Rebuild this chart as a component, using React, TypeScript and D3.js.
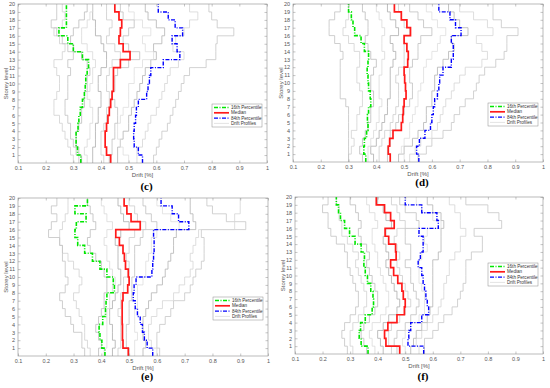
import { useEffect, useRef } from "react";
import * as d3 from "d3";

// storey levels and x ticks
const levels = d3.range(1, 21);
const xTicks = [0.1, 0.2, 0.3, 0.4, 0.5, 0.6, 0.7, 0.8, 0.9, 1];
const legendLabels = ["16th Percentile", "Median", "84th Percentile", "Drift Profiles"];

// values listed bottom (storey 1) to top (storey 20)
const c16 = [0.327, 0.315, 0.31, 0.31, 0.317, 0.32, 0.325, 0.333, 0.34, 0.343, 0.345, 0.35, 0.355, 0.333, 0.3, 0.28, 0.248, 0.275, 0.275, 0.275];
const cMed = [0.435, 0.42, 0.415, 0.415, 0.42, 0.425, 0.43, 0.435, 0.44, 0.445, 0.445, 0.445, 0.47, 0.505, 0.48, 0.465, 0.47, 0.475, 0.465, 0.45];
const c84 = [0.55, 0.535, 0.52, 0.518, 0.52, 0.525, 0.528, 0.535, 0.565, 0.57, 0.575, 0.58, 0.625, 0.685, 0.675, 0.657, 0.695, 0.668, 0.643, 0.607];
const cGray = [
  [0.59, 0.6, 0.61, 0.62, 0.64, 0.65, 0.66, 0.67, 0.68, 0.69, 0.7, 0.72, 0.78, 0.815, 0.815, 0.82, 0.88, 0.82, 0.8, 0.79],
  [0.53, 0.53, 0.55, 0.56, 0.57, 0.58, 0.6, 0.61, 0.62, 0.63, 0.64, 0.65, 0.68, 0.7, 0.66, 0.67, 0.7, 0.72, 0.75, 0.72],
  [0.46, 0.46, 0.47, 0.48, 0.5, 0.5, 0.51, 0.52, 0.53, 0.54, 0.55, 0.56, 0.58, 0.6, 0.59, 0.62, 0.63, 0.6, 0.57, 0.56],
  [0.5, 0.48, 0.47, 0.46, 0.46, 0.47, 0.48, 0.5, 0.5, 0.5, 0.52, 0.52, 0.55, 0.59, 0.56, 0.55, 0.58, 0.55, 0.52, 0.5],
  [0.43, 0.44, 0.44, 0.45, 0.45, 0.46, 0.46, 0.45, 0.44, 0.45, 0.45, 0.46, 0.5, 0.54, 0.5, 0.48, 0.5, 0.52, 0.48, 0.47],
  [0.41, 0.4, 0.4, 0.4, 0.41, 0.42, 0.42, 0.43, 0.43, 0.42, 0.42, 0.43, 0.44, 0.47, 0.45, 0.42, 0.43, 0.44, 0.42, 0.42],
  [0.37, 0.37, 0.38, 0.38, 0.38, 0.39, 0.39, 0.4, 0.4, 0.39, 0.39, 0.4, 0.42, 0.42, 0.41, 0.4, 0.38, 0.38, 0.37, 0.37],
  [0.35, 0.34, 0.35, 0.36, 0.36, 0.37, 0.37, 0.36, 0.35, 0.36, 0.37, 0.37, 0.38, 0.37, 0.35, 0.33, 0.33, 0.35, 0.36, 0.37],
  [0.33, 0.32, 0.31, 0.31, 0.32, 0.33, 0.33, 0.34, 0.34, 0.35, 0.35, 0.36, 0.35, 0.33, 0.3, 0.29, 0.3, 0.32, 0.34, 0.35],
  [0.3, 0.29, 0.28, 0.27, 0.26, 0.25, 0.23, 0.23, 0.24, 0.25, 0.25, 0.24, 0.23, 0.26, 0.27, 0.25, 0.23, 0.26, 0.27, 0.26],
  [0.32, 0.31, 0.3, 0.29, 0.29, 0.28, 0.27, 0.27, 0.28, 0.28, 0.28, 0.29, 0.28, 0.3, 0.28, 0.26, 0.24, 0.22, 0.24, 0.24],
];

const d16 = [0.362, 0.355, 0.357, 0.365, 0.37, 0.368, 0.372, 0.38, 0.378, 0.372, 0.37, 0.367, 0.37, 0.372, 0.357, 0.345, 0.322, 0.316, 0.31, 0.3];
const dMed = [0.45, 0.443, 0.448, 0.46, 0.49, 0.495, 0.497, 0.5, 0.507, 0.505, 0.502, 0.5, 0.513, 0.515, 0.51, 0.5, 0.523, 0.51, 0.49, 0.465];
const d84 = [0.553, 0.545, 0.555, 0.575, 0.595, 0.6, 0.605, 0.61, 0.62, 0.625, 0.628, 0.64, 0.67, 0.677, 0.677, 0.67, 0.705, 0.685, 0.665, 0.625];
const dGray = [
  [0.55, 0.58, 0.6, 0.64, 0.67, 0.68, 0.7, 0.72, 0.75, 0.76, 0.77, 0.79, 0.83, 0.86, 0.87, 0.87, 0.91, 0.85, 0.82, 0.82],
  [0.52, 0.54, 0.56, 0.6, 0.62, 0.63, 0.64, 0.65, 0.67, 0.68, 0.7, 0.72, 0.78, 0.8, 0.78, 0.76, 0.82, 0.8, 0.75, 0.7],
  [0.48, 0.5, 0.53, 0.55, 0.57, 0.58, 0.58, 0.6, 0.6, 0.61, 0.61, 0.62, 0.64, 0.66, 0.68, 0.67, 0.73, 0.7, 0.68, 0.66],
  [0.5, 0.49, 0.5, 0.52, 0.52, 0.53, 0.54, 0.55, 0.55, 0.56, 0.57, 0.57, 0.58, 0.6, 0.62, 0.63, 0.65, 0.62, 0.6, 0.58],
  [0.44, 0.44, 0.45, 0.45, 0.47, 0.48, 0.5, 0.52, 0.53, 0.53, 0.52, 0.52, 0.53, 0.55, 0.55, 0.56, 0.6, 0.57, 0.55, 0.52],
  [0.41, 0.41, 0.42, 0.43, 0.45, 0.46, 0.47, 0.48, 0.48, 0.48, 0.47, 0.48, 0.5, 0.5, 0.5, 0.5, 0.52, 0.5, 0.49, 0.48],
  [0.39, 0.38, 0.4, 0.41, 0.42, 0.43, 0.44, 0.44, 0.45, 0.45, 0.45, 0.45, 0.46, 0.47, 0.46, 0.45, 0.48, 0.47, 0.45, 0.44],
  [0.37, 0.37, 0.38, 0.39, 0.4, 0.41, 0.41, 0.42, 0.41, 0.41, 0.41, 0.42, 0.42, 0.43, 0.42, 0.42, 0.43, 0.42, 0.41, 0.4],
  [0.35, 0.34, 0.35, 0.36, 0.37, 0.38, 0.38, 0.39, 0.39, 0.38, 0.38, 0.39, 0.4, 0.38, 0.37, 0.36, 0.37, 0.37, 0.36, 0.35],
  [0.3, 0.31, 0.32, 0.31, 0.33, 0.33, 0.34, 0.35, 0.35, 0.34, 0.33, 0.33, 0.34, 0.34, 0.32, 0.3, 0.28, 0.29, 0.3, 0.3],
  [0.3, 0.3, 0.3, 0.3, 0.3, 0.3, 0.3, 0.29, 0.27, 0.27, 0.27, 0.27, 0.27, 0.28, 0.27, 0.25, 0.23, 0.23, 0.25, 0.27],
];

const e16 = [0.413, 0.402, 0.395, 0.392, 0.405, 0.415, 0.417, 0.42, 0.447, 0.443, 0.42, 0.395, 0.368, 0.34, 0.315, 0.305, 0.31, 0.345, 0.305, 0.35];
const eMed = [0.497, 0.478, 0.476, 0.476, 0.475, 0.475, 0.475, 0.478, 0.495, 0.5, 0.497, 0.487, 0.483, 0.478, 0.465, 0.452, 0.54, 0.507, 0.492, 0.482];
const e84 = [0.585, 0.565, 0.555, 0.548, 0.54, 0.53, 0.522, 0.515, 0.518, 0.525, 0.582, 0.585, 0.588, 0.59, 0.59, 0.588, 0.715, 0.678, 0.655, 0.615];
const eGray = [
  [0.61, 0.6, 0.6, 0.61, 0.63, 0.65, 0.66, 0.7, 0.72, 0.73, 0.74, 0.76, 0.77, 0.77, 0.77, 0.76, 0.92, 0.85, 0.8, 0.78],
  [0.6, 0.58, 0.57, 0.57, 0.58, 0.6, 0.62, 0.66, 0.68, 0.7, 0.72, 0.73, 0.72, 0.73, 0.74, 0.75, 0.88, 0.88, 0.9, 0.9],
  [0.55, 0.56, 0.55, 0.55, 0.55, 0.56, 0.57, 0.58, 0.6, 0.62, 0.63, 0.64, 0.65, 0.66, 0.66, 0.67, 0.74, 0.73, 0.72, 0.72],
  [0.52, 0.52, 0.53, 0.52, 0.52, 0.52, 0.53, 0.53, 0.53, 0.55, 0.56, 0.56, 0.57, 0.58, 0.58, 0.6, 0.68, 0.65, 0.62, 0.6],
  [0.5, 0.49, 0.49, 0.49, 0.5, 0.5, 0.5, 0.51, 0.51, 0.51, 0.52, 0.52, 0.52, 0.52, 0.54, 0.55, 0.6, 0.58, 0.56, 0.55],
  [0.46, 0.47, 0.47, 0.47, 0.47, 0.46, 0.47, 0.47, 0.48, 0.48, 0.5, 0.5, 0.49, 0.5, 0.5, 0.52, 0.56, 0.53, 0.52, 0.5],
  [0.44, 0.45, 0.44, 0.44, 0.43, 0.43, 0.44, 0.45, 0.46, 0.47, 0.47, 0.46, 0.46, 0.46, 0.45, 0.47, 0.5, 0.48, 0.47, 0.46],
  [0.41, 0.42, 0.42, 0.42, 0.42, 0.42, 0.43, 0.43, 0.44, 0.45, 0.44, 0.43, 0.42, 0.42, 0.41, 0.42, 0.44, 0.42, 0.41, 0.4],
  [0.39, 0.4, 0.39, 0.38, 0.39, 0.4, 0.41, 0.41, 0.42, 0.42, 0.41, 0.4, 0.38, 0.36, 0.35, 0.36, 0.38, 0.37, 0.36, 0.35],
  [0.36, 0.35, 0.34, 0.34, 0.33, 0.32, 0.31, 0.3, 0.32, 0.33, 0.32, 0.3, 0.28, 0.26, 0.25, 0.25, 0.26, 0.27, 0.28, 0.28],
  [0.34, 0.33, 0.33, 0.3, 0.29, 0.27, 0.26, 0.25, 0.27, 0.28, 0.27, 0.27, 0.26, 0.26, 0.25, 0.21, 0.22, 0.24, 0.22, 0.24],
];

const f16 = [0.365, 0.34, 0.333, 0.338, 0.355, 0.38, 0.385, 0.383, 0.375, 0.363, 0.355, 0.35, 0.352, 0.34, 0.318, 0.298, 0.28, 0.265, 0.258, 0.25];
const fMed = [0.48, 0.43, 0.425, 0.437, 0.47, 0.497, 0.5, 0.493, 0.488, 0.473, 0.458, 0.447, 0.467, 0.465, 0.44, 0.427, 0.46, 0.447, 0.425, 0.395];
const f84 = [0.567, 0.51, 0.513, 0.52, 0.56, 0.585, 0.58, 0.575, 0.57, 0.565, 0.56, 0.547, 0.555, 0.565, 0.565, 0.55, 0.62, 0.615, 0.56, 0.5];
const fGray = [
  [0.57, 0.57, 0.6, 0.62, 0.64, 0.67, 0.69, 0.7, 0.71, 0.72, 0.72, 0.72, 0.74, 0.78, 0.78, 0.75, 0.85, 0.84, 0.8, 0.72],
  [0.55, 0.54, 0.56, 0.58, 0.6, 0.62, 0.63, 0.64, 0.64, 0.65, 0.66, 0.66, 0.68, 0.7, 0.7, 0.72, 0.7, 0.7, 0.68, 0.66],
  [0.52, 0.53, 0.54, 0.56, 0.58, 0.59, 0.6, 0.6, 0.6, 0.6, 0.6, 0.6, 0.62, 0.63, 0.63, 0.63, 0.64, 0.63, 0.6, 0.58],
  [0.5, 0.49, 0.5, 0.52, 0.55, 0.57, 0.57, 0.57, 0.56, 0.55, 0.55, 0.55, 0.56, 0.58, 0.57, 0.58, 0.63, 0.6, 0.56, 0.54],
  [0.47, 0.46, 0.47, 0.5, 0.52, 0.54, 0.55, 0.54, 0.53, 0.52, 0.52, 0.5, 0.52, 0.52, 0.5, 0.5, 0.55, 0.54, 0.5, 0.48],
  [0.45, 0.44, 0.44, 0.45, 0.48, 0.5, 0.52, 0.51, 0.5, 0.49, 0.48, 0.47, 0.48, 0.47, 0.46, 0.47, 0.5, 0.48, 0.47, 0.45],
  [0.42, 0.41, 0.4, 0.42, 0.44, 0.47, 0.48, 0.47, 0.46, 0.45, 0.44, 0.43, 0.44, 0.43, 0.42, 0.43, 0.45, 0.43, 0.42, 0.4],
  [0.39, 0.38, 0.37, 0.38, 0.41, 0.43, 0.44, 0.44, 0.43, 0.42, 0.41, 0.4, 0.4, 0.39, 0.38, 0.38, 0.4, 0.39, 0.37, 0.36],
  [0.36, 0.35, 0.34, 0.35, 0.37, 0.39, 0.4, 0.4, 0.39, 0.38, 0.37, 0.36, 0.37, 0.36, 0.34, 0.33, 0.34, 0.33, 0.32, 0.3],
  [0.31, 0.3, 0.3, 0.31, 0.33, 0.35, 0.36, 0.36, 0.35, 0.34, 0.33, 0.32, 0.33, 0.31, 0.29, 0.27, 0.27, 0.26, 0.26, 0.25],
  [0.29, 0.28, 0.27, 0.28, 0.3, 0.32, 0.33, 0.33, 0.32, 0.31, 0.3, 0.29, 0.29, 0.28, 0.25, 0.23, 0.22, 0.22, 0.2, 0.22],
];

const grayShades = ["#c6c6c6", "#d6d6d6", "#b4b4b4", "#dedede", "#c0c0c0", "#cdcdcd", "#adadad", "#d9d9d9", "#bdbdbd", "#d2d2d2", "#c3c3c3"];

const panels = [
  { label: "(c)", x0: 18, x1: 267, y0: 4, y1: 163, lowV: c16, medV: cMed, highV: c84, gray: cGray, legY: 104, labelY: 190 },
  { label: "(d)", x0: 293, x1: 543, y0: 4, y1: 162, lowV: d16, medV: dMed, highV: d84, gray: dGray, legY: 103, labelY: 186 },
  { label: "(e)", x0: 18, x1: 268, y0: 198, y1: 356, lowV: e16, medV: eMed, highV: e84, gray: eGray, legY: 297, labelY: 380 },
  { label: "(f)", x0: 295, x1: 543, y0: 197, y1: 354, lowV: f16, medV: fMed, highV: f84, gray: fGray, legY: 263, labelY: 380 },
];

const styles = [
  { color: "#00e600", width: 1.6, dash: "4,1.5,1,1.5" },
  { color: "#ff1a1a", width: 1.7, dash: null },
  { color: "#0000ff", width: 1.4, dash: "4,1.5,1,1.5" },
  { color: "#cfcfcf", width: 0.8, dash: null },
];

export default function App() {
  const ref = useRef<SVGSVGElement | null>(null);

  useEffect(() => {
    if (!ref.current) return;
    const svg = d3.select(ref.current);
    svg.selectAll("*").remove();

    svg.append("rect").attr("width", 550).attr("height", 388).attr("fill", "#fff");

    panels.forEach(p => {
      const x = d3.scaleLinear().domain([0.1, 1]).range([p.x0, p.x1]);
      const y = d3.scaleLinear().domain([0, 20]).range([p.y1, p.y0]);
      const g = svg.append("g").attr("font-family", "Liberation Sans, Arial, sans-serif");

      // step profile: value v[i] spans storey interval [i, i+1]
      const stepPts = (v: number[]) => v.flatMap((d, i) => [[d, i], [d, i + 1]] as [number, number][]);
      const line = d3.line<[number, number]>().x(d => x(d[0])).y(d => y(d[1]));

      const clipId = "clip" + p.label.replace(/\W/g, "");
      g.append("clipPath").attr("id", clipId)
        .append("rect").attr("x", p.x0).attr("y", p.y0).attr("width", p.x1 - p.x0).attr("height", p.y1 - p.y0);
      const plot = g.append("g").attr("clip-path", `url(#${clipId})`);

      p.gray.forEach((v, i) => {
        plot.append("path").datum(stepPts(v))
          .attr("fill", "none").attr("stroke", grayShades[i % grayShades.length])
          .attr("stroke-width", 0.8).attr("d", line);
      });

      [p.lowV, p.medV, p.highV].forEach((v, i) => {
        const s = styles[i];
        plot.append("path").datum(stepPts(v))
          .attr("fill", "none").attr("stroke", s.color)
          .attr("stroke-width", s.width)
          .attr("stroke-dasharray", s.dash)
          .attr("d", line);
      });

      // box
      g.append("rect").attr("x", p.x0).attr("y", p.y0)
        .attr("width", p.x1 - p.x0).attr("height", p.y1 - p.y0)
        .attr("fill", "none").attr("stroke", "#8c8c8c").attr("stroke-width", 0.6);

      const styleAxis = (a: d3.Selection<SVGGElement, unknown, null, undefined>) => {
        a.select(".domain").remove();
        a.selectAll("line").attr("stroke", "#8c8c8c").attr("stroke-width", 0.5);
        a.selectAll("text").attr("fill", "#555").attr("font-size", 5.5).attr("font-family", null);
      };

      g.append("g").attr("transform", `translate(0,${p.y1})`)
        .call(d3.axisBottom(x).tickValues(xTicks).tickSize(-2.5).tickPadding(3).tickFormat(d3.format("~g")))
        .call(styleAxis);
      g.append("g").attr("transform", `translate(0,${p.y0})`)
        .call(d3.axisTop(x).tickValues(xTicks).tickSize(-2.5).tickFormat(() => ""))
        .call(styleAxis);
      g.append("g").attr("transform", `translate(${p.x0},0)`)
        .call(d3.axisLeft(y).tickValues(levels).tickSize(-2.5).tickPadding(3))
        .call(styleAxis);
      g.append("g").attr("transform", `translate(${p.x1},0)`)
        .call(d3.axisRight(y).tickValues(levels).tickSize(-2.5).tickFormat(() => ""))
        .call(styleAxis);

      g.append("text").attr("x", (p.x0 + p.x1) / 2).attr("y", p.y1 + 14)
        .attr("text-anchor", "middle").attr("font-size", 6).attr("fill", "#555")
        .text("Drift [%]");
      g.append("text")
        .attr("transform", `translate(${p.x0 - 10},${(p.y0 + p.y1) / 2}) rotate(-90)`)
        .attr("text-anchor", "middle").attr("font-size", 6).attr("fill", "#555")
        .text("Storey level");

      g.append("text").attr("x", (p.x0 + p.x1) / 2 + 4).attr("y", p.labelY)
        .attr("text-anchor", "middle").attr("font-size", 11).attr("font-weight", "bold")
        .attr("font-family", "Liberation Serif, serif").attr("fill", "#000")
        .text(p.label);

      // legend
      const lw = 50, lh = 23;
      const lx = p.x1 - lw - 5;
      const leg = g.append("g").attr("transform", `translate(${lx},${p.legY})`);
      leg.append("rect").attr("width", lw).attr("height", lh)
        .attr("fill", "#fff").attr("stroke", "#8c8c8c").attr("stroke-width", 0.5);
      legendLabels.forEach((t, i) => {
        const s = styles[i];
        const yy = 3.5 + i * 5.3;
        leg.append("line").attr("x1", 2).attr("x2", 17).attr("y1", yy).attr("y2", yy)
          .attr("stroke", s.color).attr("stroke-width", i === 3 ? 0.6 : s.width)
          .attr("stroke-dasharray", s.dash);
        leg.append("text").attr("x", 19).attr("y", yy + 1.6)
          .attr("font-size", 4.6).attr("fill", "#333").text(t);
      });
    });
  }, []);

  return (
    <svg ref={ref} width={550} height={388}
      style={{ position: "absolute", left: 0, top: 0, display: "block" }} />
  );
}
